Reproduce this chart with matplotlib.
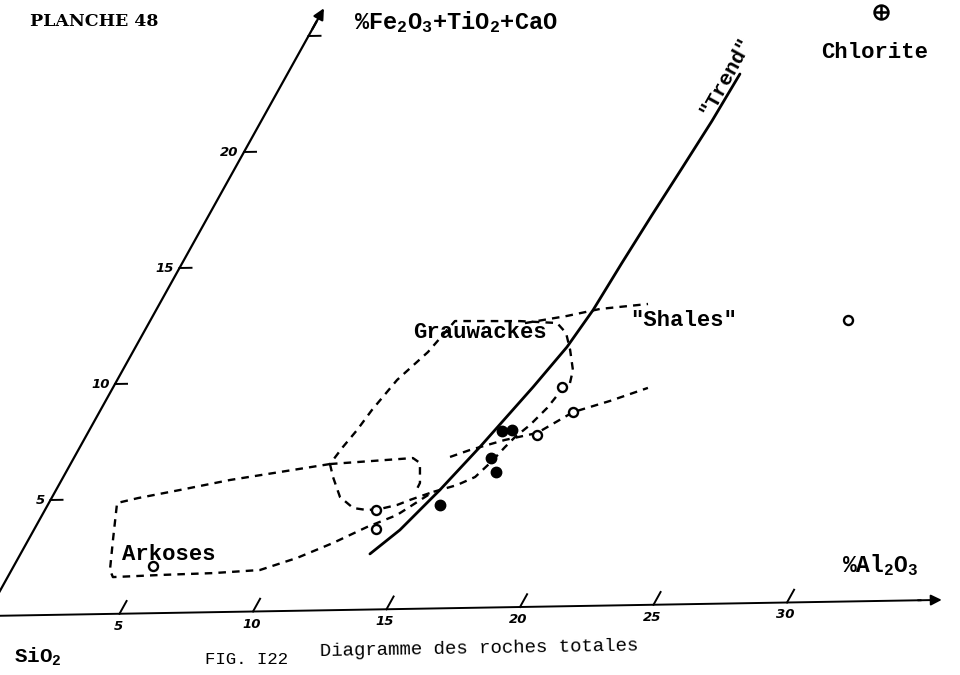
import matplotlib
matplotlib.use("Agg")
import matplotlib.pyplot as plt
from matplotlib.transforms import Affine2D
import numpy as np

# ---------------- data (x = % Al2O3, y = % Fe2O3+TiO2+CaO) ----------------
al_filled = [15.62, 15.98, 15.77, 16.25, 14.83]
fe_filled = [7.67, 7.71, 6.50, 5.89, 4.50]

al_open = [16.96, 17.91, 17.03, 12.52, 12.91, 5.26, 26.37]
fe_open = [9.54, 8.44, 7.47, 4.33, 3.50, 2.05, 12.25]

al_chlorite = [21.14]
fe_chlorite = [25.63]

trend_al = [13.21, 13.84, 14.51, 15.12, 15.87, 16.31, 16.52, 16.62, 16.75, 16.90, 17.04, 17.11]
trend_fe = [2.42, 3.44, 5.15, 6.99, 9.56, 11.28, 12.87, 14.89, 16.96, 18.98, 21.0, 23.03]

# Arkoses + Grauwackes envelope
env_al = [9.81, 8.09, 6.37, 4.68, 3.27, 2.58, 3.20, 3.72, 3.98, 5.83, 7.68, 9.39,
          10.54, 11.58, 12.53, 13.41, 14.29, 15.05, 15.57, 15.86, 16.07, 16.24,
          16.55, 16.84, 16.99, 17.18, 17.02, 16.49, 15.98, 15.43, 13.99, 11.53,
          11.16, 10.58, 10.26, 10.12, 9.94, 9.81]
env_fe = [6.36, 6.05, 5.74, 5.34, 5.02, 4.82, 3.22, 1.91, 1.60, 1.66, 1.70, 1.80,
          2.30, 2.92, 3.59, 4.09, 5.07, 5.35, 5.69, 6.33, 6.97, 7.40,
          7.91, 8.64, 9.33, 9.71, 10.27, 11.15, 11.89, 12.33, 12.44, 12.49,
          11.16, 9.97, 8.68, 7.82, 7.09, 6.36]

# small loop (top and right side)
box_top_al = [9.81, 12.82, 13.19, 13.61, 13.63]
box_top_fe = [6.36, 6.56, 6.34, 5.47, 5.04]
# small loop (left and bottom side)
box_bot_al = [9.81, 10.20, 10.88, 11.61, 12.18, 12.65, 13.21, 13.59, 14.29]
box_bot_fe = [6.36, 5.79, 4.92, 4.43, 4.33, 4.37, 4.53, 4.74, 5.07]

# "Shales" lines
sh_up_al = [14.22, 15.66, 16.76, 18.47]
sh_up_fe = [12.35, 12.63, 12.91, 13.09]
sh_lo_al = [14.20, 14.81, 15.92, 16.99, 17.91, 19.07, 20.23]
sh_lo_fe = [6.58, 6.87, 7.28, 7.56, 8.44, 8.90, 9.44]

al_ticks = [5, 10, 15, 20, 25, 30]
al_tick_labels = ["5", "10", "15", "20", "25", "30"]
fe_ticks = [5, 10, 15, 20, 25]
fe_tick_labels = ["5", "10", "15", "20", ""]

# ---------------- figure ----------------
plt.rcParams["mathtext.fontset"] = "custom"
plt.rcParams["mathtext.rm"] = "Liberation Mono:bold"
plt.rcParams["mathtext.it"] = "Liberation Mono:bold"
plt.rcParams["mathtext.bf"] = "Liberation Mono:bold"

fig = plt.figure(figsize=(9.6, 6.75), dpi=100)
ax = fig.add_axes([0, 0, 1, 1])
ax.set_xlim(0, 960)
ax.set_ylim(675, 0)
ax.axis("off")

# oblique diagram frame: data -> page
M = np.array([[26.7, 12.9, -14.0],
              [-0.45, -23.2, 616.0],
              [0.0, 0.0, 1.0]])
T = Affine2D(M) + ax.transData

K = "black"
mono = "Liberation Mono"

# axes
ax.plot([0, 35.0], [0, 0], color=K, lw=1.4, transform=T)
ax.annotate("", xy=(35.9, 0), xytext=(34.8, 0), xycoords=T, textcoords=T,
            arrowprops=dict(arrowstyle="-|>", color=K, lw=1.4, mutation_scale=16))
ax.plot([0, 0], [0, 25.6], color=K, lw=1.6, transform=T)
ax.annotate("", xy=(0, 26.3), xytext=(0, 25.2), xycoords=T, textcoords=T,
            arrowprops=dict(arrowstyle="-|>", color=K, lw=1.6, mutation_scale=16))

for a, lab in zip(al_ticks, al_tick_labels):
    ax.plot([a, a], [0, 0.55], color=K, lw=1.4, transform=T)
    ax.annotate(lab, xy=(a, 0), xycoords=T, xytext=(-1, -9), textcoords="offset points",
                ha="center", va="center", fontsize=9.5, fontweight="bold", style="italic")
for f, lab in zip(fe_ticks, fe_tick_labels):
    ax.plot([0, 0.45], [f, f], color=K, lw=1.4, transform=T)
    if lab:
        ax.annotate(lab, xy=(0, f), xycoords=T, xytext=(-4, 0), textcoords="offset points",
                    ha="right", va="center", fontsize=9.5, fontweight="bold", style="italic")

# dashed outlines
ds = dict(color=K, lw=1.7, linestyle=(0, (3.2, 2.6)), transform=T)
ax.plot(env_al, env_fe, **ds)
ax.plot(box_top_al, box_top_fe, **ds)
ax.plot(box_bot_al, box_bot_fe, **ds)
ax.plot(sh_up_al, sh_up_fe, **ds)
ax.plot(sh_lo_al, sh_lo_fe, **ds)

# trend curve
ax.plot(trend_al, trend_fe, color=K, lw=2.0, transform=T, solid_capstyle="round",
        solid_joinstyle="round")

# samples
ax.plot(al_open, fe_open, linestyle="none", marker="o", markersize=6.5,
        markerfacecolor="white", markeredgecolor=K, markeredgewidth=1.7, transform=T)
ax.plot(al_filled, fe_filled, linestyle="none", marker="o", markersize=7.5,
        color=K, transform=T)
ax.plot(al_chlorite, fe_chlorite, linestyle="none", marker="o", markersize=10,
        markerfacecolor="white", markeredgecolor=K, markeredgewidth=1.8, transform=T)
ax.plot(al_chlorite, fe_chlorite, linestyle="none", marker="+", markersize=10,
        markeredgecolor=K, markeredgewidth=1.8, transform=T)

# texts
ax.text(30, 21, "PLANCHE 48", fontsize=12.5, fontweight="bold", family="DejaVu Serif",
        ha="left", va="center")
ax.text(354, 22, r"%Fe$_2$O$_3$+TiO$_2$+CaO", fontsize=17, fontweight="bold",
        family=mono, ha="left", va="center")
ax.text(875, 52, "Chlorite", fontsize=16, fontweight="bold", family=mono,
        ha="center", va="center")
ax.text(726, 76, '"Trend"', fontsize=15, fontweight="bold", family=mono,
        ha="center", va="center", rotation=61)
ax.text(480, 333, "Grauwackes", fontsize=16, fontweight="bold", family=mono,
        ha="center", va="center")
ax.text(684, 320, '"Shales"', fontsize=16, fontweight="bold", family=mono,
        ha="center", va="center")
ax.text(169, 555, "Arkoses", fontsize=16, fontweight="bold", family=mono,
        ha="center", va="center")
ax.text(842, 565, r"%Al$_2$O$_3$", fontsize=16.5, fontweight="bold", family=mono,
        ha="left", va="center")
ax.text(14, 657, r"SiO$_2$", fontsize=15, fontweight="bold", family=mono,
        ha="left", va="center")
ax.text(205, 660, "FIG. I22", fontsize=12.5, family=mono, ha="left", va="center")
ax.text(320, 649, "Diagramme des roches totales", fontsize=13.7, family=mono,
        ha="left", va="center", rotation=1)

fig.savefig("out.png", dpi=100)
